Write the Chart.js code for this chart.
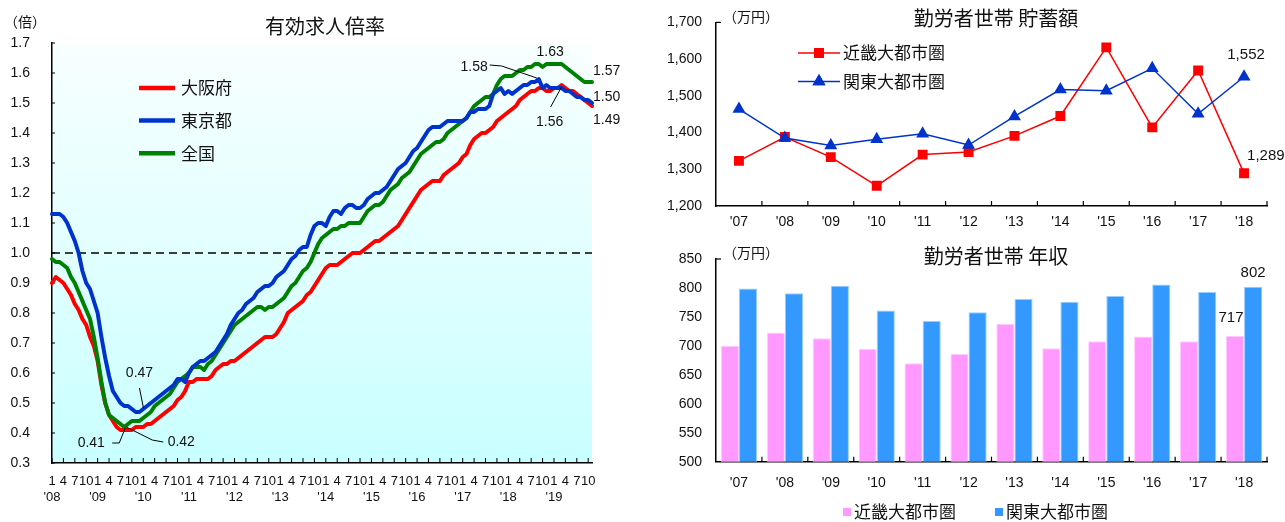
<!DOCTYPE html>
<html lang="ja">
<head>
<meta charset="utf-8">
<script src="https://cdn.jsdelivr.net/npm/chart.js@4.4.1/dist/chart.umd.min.js"></script>
<style>
  html, body { margin: 0; padding: 0; background: #fff; }
  body { width: 1285px; height: 522px; position: relative; overflow: hidden; }
  canvas { position: absolute; }
  #ratio { left: 0; top: 0; }
  #savings { left: 640px; top: 0; }
  #income { left: 640px; top: 232px; }
</style>
</head>
<body>
<canvas id="ratio" width="640" height="522"></canvas>
<canvas id="savings" width="645" height="232"></canvas>
<canvas id="income" width="645" height="290"></canvas>
<script>
// ---- 有効求人倍率 (monthly, Jan 2008 - Nov 2019) ----
const ratioYears = ['08', '09', '10', '11', '12', '13', '14', '15', '16', '17', '18', '19'];
const ratioMonthCount = 143;

const osaka = [
  0.90, 0.92, 0.91, 0.90, 0.88, 0.86, 0.83, 0.81, 0.78, 0.76, 0.72, 0.69,
  0.64, 0.56, 0.50, 0.46, 0.44, 0.42, 0.41, 0.41, 0.41, 0.41, 0.42, 0.42,
  0.42, 0.43, 0.43, 0.44, 0.45, 0.46, 0.47, 0.48, 0.49, 0.51, 0.52, 0.54,
  0.57, 0.57, 0.58, 0.58, 0.58, 0.58, 0.59, 0.61, 0.62, 0.63, 0.63, 0.64,
  0.64, 0.65, 0.66, 0.67, 0.68, 0.69, 0.70, 0.71, 0.72, 0.72, 0.72, 0.73,
  0.75, 0.77, 0.80, 0.81, 0.82, 0.83, 0.84, 0.86, 0.87, 0.89, 0.91, 0.93,
  0.95, 0.96, 0.96, 0.96, 0.97, 0.98, 0.99, 1.00, 1.00, 1.00, 1.01, 1.02,
  1.03, 1.04, 1.04, 1.05, 1.06, 1.07, 1.08, 1.09, 1.11, 1.13, 1.15, 1.17,
  1.19, 1.21, 1.22, 1.23, 1.24, 1.24, 1.24, 1.26, 1.27, 1.28, 1.29, 1.30,
  1.32, 1.33, 1.36, 1.38, 1.39, 1.40, 1.40, 1.41, 1.42, 1.44, 1.45, 1.46,
  1.47, 1.48, 1.49, 1.51, 1.52, 1.53, 1.54, 1.54, 1.55, 1.55, 1.54, 1.54,
  1.55, 1.55, 1.56, 1.55, 1.54, 1.54, 1.53, 1.52, 1.51, 1.50, 1.49
];
const tokyo = [
  1.13, 1.13, 1.13, 1.12, 1.10, 1.07, 1.04, 1.00, 0.94, 0.90, 0.88, 0.84,
  0.80, 0.72, 0.65, 0.59, 0.54, 0.52, 0.50, 0.49, 0.49, 0.48, 0.47, 0.47,
  0.48, 0.49, 0.50, 0.51, 0.52, 0.53, 0.54, 0.55, 0.56, 0.58, 0.58, 0.57,
  0.60, 0.62, 0.63, 0.64, 0.64, 0.65, 0.66, 0.67, 0.69, 0.71, 0.73, 0.76,
  0.78, 0.80, 0.81, 0.83, 0.84, 0.85, 0.87, 0.88, 0.89, 0.89, 0.90, 0.92,
  0.93, 0.94, 0.96, 0.98, 0.99, 1.01, 1.02, 1.02, 1.06, 1.09, 1.10, 1.10,
  1.09, 1.12, 1.14, 1.14, 1.13, 1.15, 1.16, 1.16, 1.15, 1.15, 1.16, 1.18,
  1.19, 1.20, 1.20, 1.21, 1.22, 1.24, 1.26, 1.28, 1.29, 1.30, 1.32, 1.34,
  1.35, 1.37, 1.39, 1.41, 1.42, 1.42, 1.42, 1.43, 1.44, 1.44, 1.44, 1.44,
  1.44, 1.45, 1.47, 1.47, 1.48, 1.48, 1.48, 1.49, 1.53, 1.54, 1.55, 1.53,
  1.54, 1.53, 1.54, 1.55, 1.56, 1.56, 1.57, 1.57, 1.58, 1.55, 1.56, 1.55,
  1.55, 1.55, 1.55, 1.54, 1.54, 1.53, 1.52, 1.52, 1.51, 1.51, 1.50
];
const zenkoku = [
  0.98, 0.97, 0.97, 0.96, 0.95, 0.92, 0.90, 0.87, 0.84, 0.81, 0.78, 0.72,
  0.65, 0.57, 0.50, 0.46, 0.45, 0.44, 0.43, 0.42, 0.43, 0.44, 0.44, 0.44,
  0.45, 0.46, 0.47, 0.49, 0.50, 0.51, 0.52, 0.53, 0.55, 0.57, 0.58, 0.59,
  0.60, 0.62, 0.62, 0.62, 0.61, 0.63, 0.64, 0.66, 0.68, 0.70, 0.72, 0.74,
  0.76, 0.77, 0.78, 0.79, 0.80, 0.81, 0.82, 0.82, 0.81, 0.82, 0.82, 0.83,
  0.84, 0.85, 0.87, 0.89, 0.90, 0.92, 0.94, 0.95, 0.97, 1.00, 1.03, 1.05,
  1.06, 1.07, 1.08, 1.08, 1.09, 1.09, 1.10, 1.10, 1.10, 1.10, 1.12, 1.14,
  1.15, 1.16, 1.16, 1.17, 1.19, 1.21, 1.22, 1.23, 1.25, 1.26, 1.27, 1.29,
  1.31, 1.33, 1.34, 1.35, 1.36, 1.37, 1.37, 1.38, 1.40, 1.41, 1.42, 1.43,
  1.44, 1.45, 1.47, 1.49, 1.50, 1.51, 1.52, 1.52, 1.53, 1.56, 1.58, 1.59,
  1.59, 1.59, 1.60, 1.61, 1.61, 1.62, 1.62, 1.63, 1.63, 1.62, 1.63, 1.63,
  1.63, 1.63, 1.63, 1.62, 1.61, 1.60, 1.59, 1.58, 1.57, 1.57, 1.57
];

// ---- 勤労者世帯 (annual) ----
const fiscalYears = ["'07", "'08", "'09", "'10", "'11", "'12", "'13", "'14", "'15", "'16", "'17", "'18"];
const kinkiSavings = [1323, 1388, 1333, 1255, 1340, 1347, 1391, 1445, 1632, 1414, 1569, 1289];
const kantoSavings = [1464, 1385, 1365, 1382, 1397, 1366, 1444, 1517, 1514, 1575, 1451, 1552];
const kinkiIncome = [700, 723, 713, 695, 670, 686, 738, 696, 708, 716, 708, 717];
const kantoIncome = [799, 791, 804, 761, 743, 758, 781, 776, 786, 806, 793, 802];

const LAT = "'Liberation Sans', Arial, sans-serif";
const JP = "'Noto Sans CJK JP', 'Noto Sans CJK SC', sans-serif";
Chart.defaults.font.family = LAT;
Chart.defaults.color = '#111';
Chart.defaults.animation = false;

function put(ctx, s, x, y, font, align, base, color) {
  ctx.save();
  ctx.font = font;
  ctx.textAlign = align || 'left';
  ctx.textBaseline = base || 'middle';
  ctx.fillStyle = color || '#111';
  ctx.fillText(s, x, y);
  ctx.restore();
}
function stroke(ctx, pts, width, color, dash) {
  ctx.save();
  ctx.beginPath();
  ctx.lineWidth = width;
  ctx.strokeStyle = color;
  if (dash) ctx.setLineDash(dash);
  pts.forEach((p, i) => (i ? ctx.lineTo(p[0], p[1]) : ctx.moveTo(p[0], p[1])));
  ctx.stroke();
  ctx.restore();
}

// month categories for the ratio chart
const monthCats = [];
for (let i = 0; i < ratioMonthCount; i++) {
  monthCats.push(ratioYears[Math.floor(i / 12)] + '/' + (i % 12 + 1));
}

// value callouts: dataset index, point index, label offset, leader path (relative to the point)
const ratioNotes = [
  { ds: 2, idx: 131, dx: 0, dy: -12, align: 'center' },
  { ds: 1, idx: 128, dx: -51, dy: -12, align: 'right', leader: [[-49, -14], [-37, -13], [-2, -1]] },
  { ds: 0, idx: 134, dx: -12, dy: 37, align: 'center', leader: [[-11, 22], [0, 2]] },
  { ds: 2, idx: 142, dx: 1, dy: -11, align: 'left' },
  { ds: 1, idx: 142, dx: 1, dy: -6, align: 'left' },
  { ds: 0, idx: 142, dx: 1, dy: 14, align: 'left' },
  { ds: 1, idx: 23, dx: 0, dy: -39, align: 'center', leader: [[0, -24], [4, -4]] },
  { ds: 0, idx: 19, dx: -33, dy: 13, align: 'center', leader: [[-12, 13], [-5, 13], [1, -2]] },
  { ds: 2, idx: 19, dx: 57, dy: 15, align: 'center', leader: [[39, 15], [28, 13], [2, 0]] }
];

const ratioDecor = {
  id: 'ratioDecor',
  beforeDraw(chart) {
    const { ctx, chartArea: a } = chart;
    const g = ctx.createLinearGradient(0, a.top, 0, a.bottom);
    g.addColorStop(0, '#f8ffff');
    g.addColorStop(0.5, '#e2ffff');
    g.addColorStop(1, '#c9ffff');
    ctx.save();
    ctx.fillStyle = g;
    ctx.fillRect(a.left, a.top, a.right - a.left, a.bottom - a.top);
    ctx.restore();
  },
  beforeDatasetsDraw(chart) {
    const { ctx, chartArea: a, scales: { x, y } } = chart;
    const y1 = y.getPixelForValue(1.0);
    stroke(ctx, [[a.left, y1], [a.right, y1]], 1.3, '#000', [8, 5]);
    // inward tick marks
    y.ticks.forEach(t => {
      const py = y.getPixelForValue(t.value);
      stroke(ctx, [[a.left, py], [a.left + 3, py]], 1, '#000');
    });
    for (let i = 0; i < ratioMonthCount; i += 3) {
      const px = x.getPixelForValue(i);
      stroke(ctx, [[px, a.bottom], [px, a.bottom - 5]], 1, '#000');
    }
  },
  afterDraw(chart) {
    const { ctx, scales: { x, y } } = chart;
    put(ctx, '有効求人倍率', 325, 26, '20px ' + JP, 'center');
    put(ctx, '（倍）', 25, 22, '14px ' + JP, 'center');
    // legend
    chart.data.datasets.forEach((ds, i) => {
      const ly = 88 + i * 32.6;
      stroke(ctx, [[139, ly], [175, ly]], 4.5, ds.borderColor);
      put(ctx, ds.label, 181, ly, '17px ' + JP, 'left');
    });
    // callouts
    ratioNotes.forEach(n => {
      const v = chart.data.datasets[n.ds].data[n.idx];
      const px = x.getPixelForValue(n.idx), py = y.getPixelForValue(v);
      if (n.leader) stroke(ctx, n.leader.map(p => [px + p[0], py + p[1]]), 1, '#000');
      put(ctx, v.toFixed(2), px + n.dx, py + n.dy, '14px ' + LAT, n.align);
    });
  }
};

new Chart(document.getElementById('ratio'), {
  type: 'line',
  data: {
    labels: monthCats,
    datasets: [
      { label: '大阪府', data: osaka, borderColor: '#ff0000', order: 3 },
      { label: '東京都', data: tokyo, borderColor: '#0033cc', order: 1 },
      { label: '全国', data: zenkoku, borderColor: '#008000', order: 2 }
    ]
  },
  options: {
    responsive: false,
    layout: { padding: { top: 43, right: 48, left: 0, bottom: 0 } },
    elements: {
      point: { radius: 0 },
      line: { borderWidth: 4, tension: 0, borderJoinStyle: 'round', borderCapStyle: 'round' }
    },
    plugins: { legend: { display: false }, tooltip: { enabled: false } },
    scales: {
      x: {
        type: 'category',
        offset: false,
        grid: { display: false, drawTicks: false },
        border: { display: true, color: '#000', width: 1.5 },
        ticks: {
          autoSkip: false, maxRotation: 0, minRotation: 0, padding: 11,
          font: { size: 13 }, color: '#111',
          callback: (v, i) => {
            const m = i % 12 + 1;
            if (m % 3 !== 1) return null;
            return m === 1 ? [String(m), "'" + ratioYears[Math.floor(i / 12)]] : String(m);
          }
        },
        afterFit: s => { s.height = 59; }
      },
      y: {
        min: 0.3, max: 1.7,
        grid: { display: false, drawTicks: false },
        border: { display: true, color: '#000', width: 1.5 },
        ticks: { stepSize: 0.1, padding: 22, font: { size: 14 }, color: '#111', callback: v => v.toFixed(1) },
        afterFit: s => { s.width = 52; }
      }
    }
  },
  plugins: [ratioDecor]
});

// ---- shared pieces for the two annual charts ----
function boundaryTicks(chart) {
  const { ctx, chartArea: a, scales: { x } } = chart;
  const n = chart.data.labels.length;
  const w = (x.right - x.left) / n;
  for (let k = 1; k <= n; k++) {
    const px = x.left + k * w;
    stroke(ctx, [[px, a.bottom], [px, a.bottom - 5]], 1.2, '#000');
  }
  stroke(ctx, [[a.left, a.top], [a.left + 5, a.top]], 1.2, '#000');
}
function annualScales(minV, maxV, step, fmt, xPad, xHeight) {
  return {
    x: {
      offset: true,
      grid: { display: false, drawTicks: false },
      border: { display: true, color: '#000', width: 1.5 },
      ticks: { padding: xPad, font: { size: 14 }, color: '#111', maxRotation: 0 },
      afterFit: s => { s.height = xHeight; }
    },
    y: {
      min: minV, max: maxV,
      grid: { display: false, drawTicks: false },
      border: { display: true, color: '#000', width: 1.5 },
      ticks: { stepSize: step, padding: 14, font: { size: 14 }, color: '#111', callback: fmt },
      afterFit: s => { s.width = 76; }
    }
  };
}

const savingsDecor = {
  id: 'savingsDecor',
  beforeDatasetsDraw(chart) { boundaryTicks(chart); },
  afterDraw(chart) {
    const { ctx } = chart;
    put(ctx, '勤労者世帯 貯蓄額', 356, 18, '20px ' + JP, 'center');
    put(ctx, '（万円）', 83, 17, '14px ' + JP, 'left');
    chart.data.datasets.forEach((ds, i) => {
      const ly = 53 + i * 28.5;
      stroke(ctx, [[158, ly], [200, ly]], 1.5, ds.borderColor);
      ctx.save();
      ctx.fillStyle = ds.backgroundColor;
      Chart.helpers.drawPoint(ctx, { pointStyle: ds.pointStyle, radius: ds.pointRadius, borderWidth: 0 }, 179, ly);
      ctx.fill();
      ctx.restore();
      put(ctx, ds.label, 203, ly, '17px ' + JP, 'left');
    });
    const last = chart.data.labels.length - 1;
    const kanto = chart.getDatasetMeta(1).data[last];
    const kinki = chart.getDatasetMeta(0).data[last];
    put(ctx, kantoSavings[last].toLocaleString('en-US'), kanto.x + 2, kanto.y - 22, '15px ' + LAT, 'center');
    put(ctx, kinkiSavings[last].toLocaleString('en-US'), kinki.x + 3, kinki.y - 17, '15px ' + LAT, 'left');
  }
};

new Chart(document.getElementById('savings'), {
  type: 'line',
  data: {
    labels: fiscalYears,
    datasets: [
      { label: '近畿大都市圏', data: kinkiSavings, borderColor: '#ff0000', backgroundColor: '#ff0000',
        pointStyle: 'rect', pointRadius: 7, pointBorderWidth: 0, borderWidth: 1.5, order: 2 },
      { label: '関東大都市圏', data: kantoSavings, borderColor: '#0033cc', backgroundColor: '#0033cc',
        pointStyle: 'triangle', pointRadius: 7.5, pointBorderWidth: 0, borderWidth: 1.5, order: 1 }
    ]
  },
  options: {
    responsive: false,
    layout: { padding: { top: 18, right: 18, left: 0, bottom: 0 } },
    elements: { line: { tension: 0 } },
    plugins: { legend: { display: false }, tooltip: { enabled: false } },
    scales: annualScales(1200, 1700, 50, v => v.toLocaleString('en-US'), 8, 26)
  },
  plugins: [savingsDecor]
});

const incomeDecor = {
  id: 'incomeDecor',
  beforeDatasetsDraw(chart) { boundaryTicks(chart); },
  afterDraw(chart) {
    const { ctx } = chart;
    put(ctx, '勤労者世帯 年収', 356, 24, '20px ' + JP, 'center');
    put(ctx, '（万円）', 83, 21, '14px ' + JP, 'left');
    const xs = [203, 355];
    chart.data.datasets.forEach((ds, i) => {
      ctx.save();
      ctx.fillStyle = ds.backgroundColor;
      ctx.fillRect(xs[i], 276, 8, 8);
      ctx.restore();
      put(ctx, ds.label, xs[i] + 11, 280, '17px ' + JP, 'left');
    });
    const last = chart.data.labels.length - 1;
    const kinki = chart.getDatasetMeta(0).data[last];
    const kanto = chart.getDatasetMeta(1).data[last];
    put(ctx, String(kinkiIncome[last]), kinki.x - 4, kinki.y - 18, '15px ' + LAT, 'center');
    put(ctx, String(kantoIncome[last]), kanto.x, kanto.y - 14, '15px ' + LAT, 'center');
  }
};

new Chart(document.getElementById('income'), {
  type: 'bar',
  data: {
    labels: fiscalYears,
    datasets: [
      { label: '近畿大都市圏', data: kinkiIncome, backgroundColor: '#ff99ff', borderColor: '#ffccff',
        borderWidth: 1, borderSkipped: 'bottom' },
      { label: '関東大都市圏', data: kantoIncome, backgroundColor: '#3399ff', borderColor: '#99ccff',
        borderWidth: 1, borderSkipped: 'bottom' }
    ]
  },
  options: {
    responsive: false,
    layout: { padding: { top: 27, right: 18, left: 0, bottom: 0 } },
    datasets: { bar: { categoryPercentage: 0.79, barPercentage: 1.0 } },
    plugins: { legend: { display: false }, tooltip: { enabled: false } },
    scales: annualScales(500, 850, 50, v => String(v), 13, 60.3)
  },
  plugins: [incomeDecor]
});
</script>
</body>
</html>
